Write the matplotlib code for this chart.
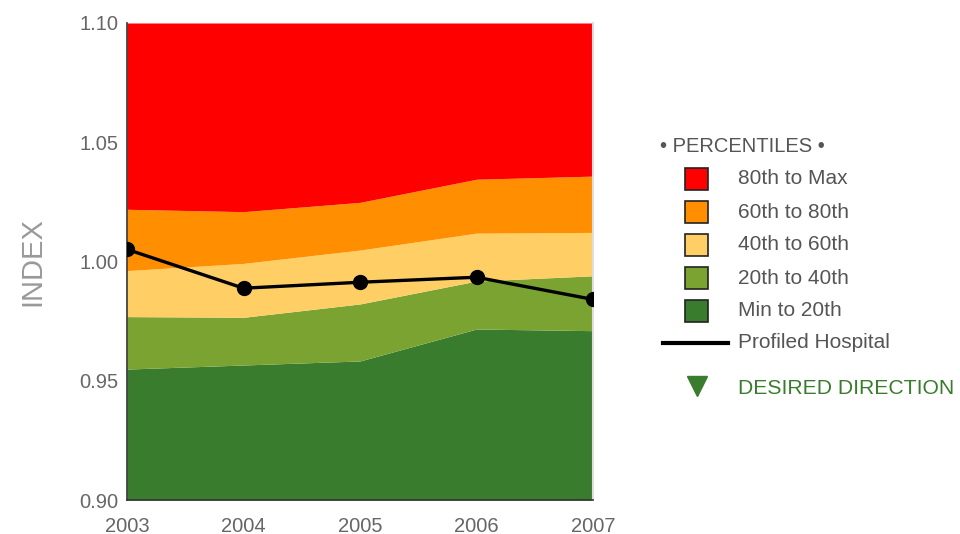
import matplotlib.pyplot as plt
from matplotlib.patches import Rectangle
from matplotlib.lines import Line2D
import numpy as np

plt.rcParams['font.family'] = ['Liberation Sans', 'DejaVu Sans']

# Data
years = [2003, 2004, 2005, 2006, 2007]
p20 = [0.9549, 0.9566, 0.9583, 0.9717, 0.9710]
p40 = [0.9769, 0.9766, 0.9822, 0.9918, 0.9940]
p60 = [0.9962, 0.9992, 1.0048, 1.0119, 1.0122]
p80 = [1.0219, 1.0209, 1.0248, 1.0345, 1.0358]
hospital = [1.0051, 0.9888, 0.9913, 0.9934, 0.9841]

y_min, y_max = 0.90, 1.10
y_ticks = [0.90, 0.95, 1.00, 1.05, 1.10]

band_labels = ["80th to Max", "60th to 80th", "40th to 60th", "20th to 40th", "Min to 20th"]
band_colors = ["#ff0000", "#ff8f00", "#ffcf66", "#7aa332", "#3a7c2e"]

text_grey = "#555555"
green_text = "#3a7c2e"

fig = plt.figure(figsize=(9.6, 5.34), dpi=100)
ax = fig.add_axes([127 / 960, 1 - 500 / 534, 466 / 960, 477 / 534])

# percentile bands, bottom to top
lower = [np.full(len(years), y_min), p20, p40, p60, p80]
upper = [p20, p40, p60, p80, np.full(len(years), y_max)]
for lo, hi, col in zip(lower, upper, band_colors[::-1]):
    ax.fill_between(years, lo, hi, color=col, lw=0)

ax.plot(years, hospital, color="black", lw=2.4, marker="o", ms=10, zorder=5)

ax.set_xlim(years[0], years[-1])
ax.set_ylim(y_min, y_max)
ax.set_xticks(years)
ax.set_yticks(y_ticks)
ax.set_yticklabels([f"{v:.2f}" for v in y_ticks])
ax.tick_params(length=0, labelsize=14.5, labelcolor="#666666")
ax.tick_params(axis="y", pad=6)
ax.tick_params(axis="x", pad=12)

for s in ["left", "bottom"]:
    ax.spines[s].set_color("#333333")
    ax.spines[s].set_linewidth(1.2)
ax.spines["top"].set_visible(False)
ax.spines["right"].set_color("#dddddd")
ax.spines["right"].set_linewidth(1.5)

ax.set_ylabel("INDEX", fontsize=21, color="#999999", labelpad=24)

# legend drawn by hand in pixel coords
W, H = 960, 534


def fx(px):
    return px / W


def fy(py):
    return 1 - py / H


fig.text(fx(660), fy(146), "\u2022 PERCENTILES \u2022", fontsize=14.5, color=text_grey,
         va="center", ha="left")
row_y = [179, 212, 245, 278, 311]
for yy, lab, col in zip(row_y, band_labels, band_colors):
    fig.patches.append(Rectangle((fx(685), fy(yy + 11)), fx(23), 22 / H, transform=fig.transFigure,
                                 facecolor=col, edgecolor="#222222", lw=1.2))
    fig.text(fx(738), fy(yy), lab, fontsize=15, color=text_grey, va="center", ha="left")

fig.lines.append(Line2D([fx(663), fx(728)], [fy(343), fy(343)], transform=fig.transFigure,
                        color="black", lw=3))
fig.text(fx(738), fy(343), "Profiled Hospital", fontsize=15, color=text_grey, va="center", ha="left")

fig.lines.append(Line2D([fx(697)], [fy(386)], transform=fig.transFigure, marker="v",
                        ms=14, color=green_text, lw=0))
fig.text(fx(738), fy(389), "DESIRED DIRECTION", fontsize=15.2, color=green_text, va="center", ha="left")

fig.savefig("out.png", dpi=100)
